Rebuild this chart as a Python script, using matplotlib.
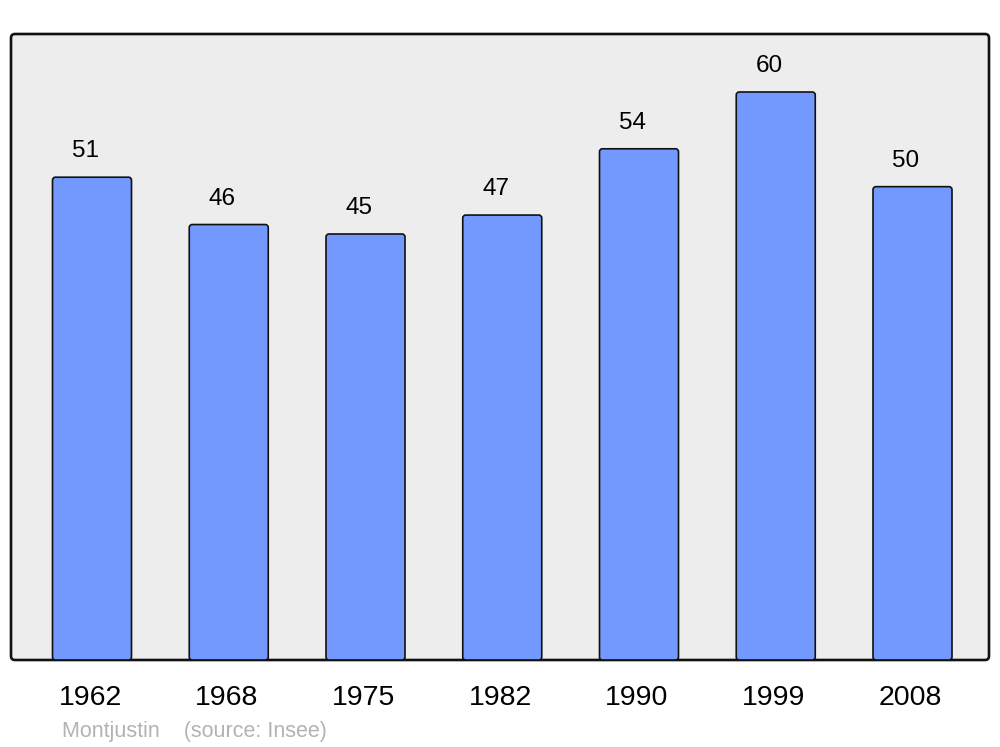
import matplotlib
matplotlib.use("Agg")
import matplotlib.pyplot as plt
from matplotlib.patches import FancyBboxPatch

years = ["1962", "1968", "1975", "1982", "1990", "1999", "2008"]
population = [51, 46, 45, 47, 54, 60, 50]

plt.rcParams['font.family'] = ['Liberation Sans', 'DejaVu Sans']

W, H = 1000, 747
fig = plt.figure(figsize=(W / 100, H / 100), dpi=100)
fig.patch.set_facecolor('white')

# panel in pixel coordinates
px_l, px_r, px_t, px_b = 11, 989, 34, 660
ax = fig.add_axes([px_l / W, (H - px_b) / H, (px_r - px_l) / W, (px_b - px_t) / H])
ax.set_facecolor('none')
ax.set_zorder(2)
for s in ax.spines.values():
    s.set_visible(False)

panel = FancyBboxPatch((px_l / W, (H - px_b) / H), (px_r - px_l) / W, (px_b - px_t) / H,
                       boxstyle="round,pad=0,rounding_size=0.004", mutation_aspect=W / H,
                       transform=fig.transFigure, facecolor='#EDEDED', edgecolor='#111111',
                       linewidth=1.9, zorder=-1)
fig.patches.append(panel)

spacing = 136.75
x0 = -(92 - px_l) / spacing
x1 = x0 + (px_r - px_l) / spacing
ax.set_xlim(x0, x1)
ymax = (px_b - px_t) / (568 / 60)
ax.set_ylim(0, ymax)

xs = list(range(len(years)))
width = 79 / spacing
bars = ax.bar(xs, population, width=width, color='#7399FF', edgecolor='#111111', linewidth=1.2)

xpp = 1 / spacing
ypp = 60 / 568
for b in bars:
    b.set_visible(False)
    fb = FancyBboxPatch((b.get_x(), b.get_y()), b.get_width(), b.get_height(),
                        boxstyle=f"round,pad=0,rounding_size={3 * xpp}",
                        mutation_aspect=ypp / xpp, facecolor='#7399FF',
                        edgecolor='#111111', linewidth=1.2, zorder=2, clip_on=False)
    ax.add_patch(fb)
    ax.text(b.get_x() + b.get_width() / 2 - 6.5 * xpp, b.get_height() + 26 * ypp, f"{int(b.get_height())}",
            ha='center', va='center', fontsize=17.5, color='black', zorder=3)

ax.set_xticks([x - 2 * xpp for x in xs])
ax.set_xticklabels(years, fontsize=20.5)
ax.tick_params(axis='x', length=0, pad=18)
ax.set_yticks([])

fig.text(62 / W, 1 - 731 / H, "Montjustin    (source: Insee)", fontsize=15.5,
         color='#B3B3B3', ha='left', va='center')

fig.savefig("out.png", dpi=100, facecolor='white')
